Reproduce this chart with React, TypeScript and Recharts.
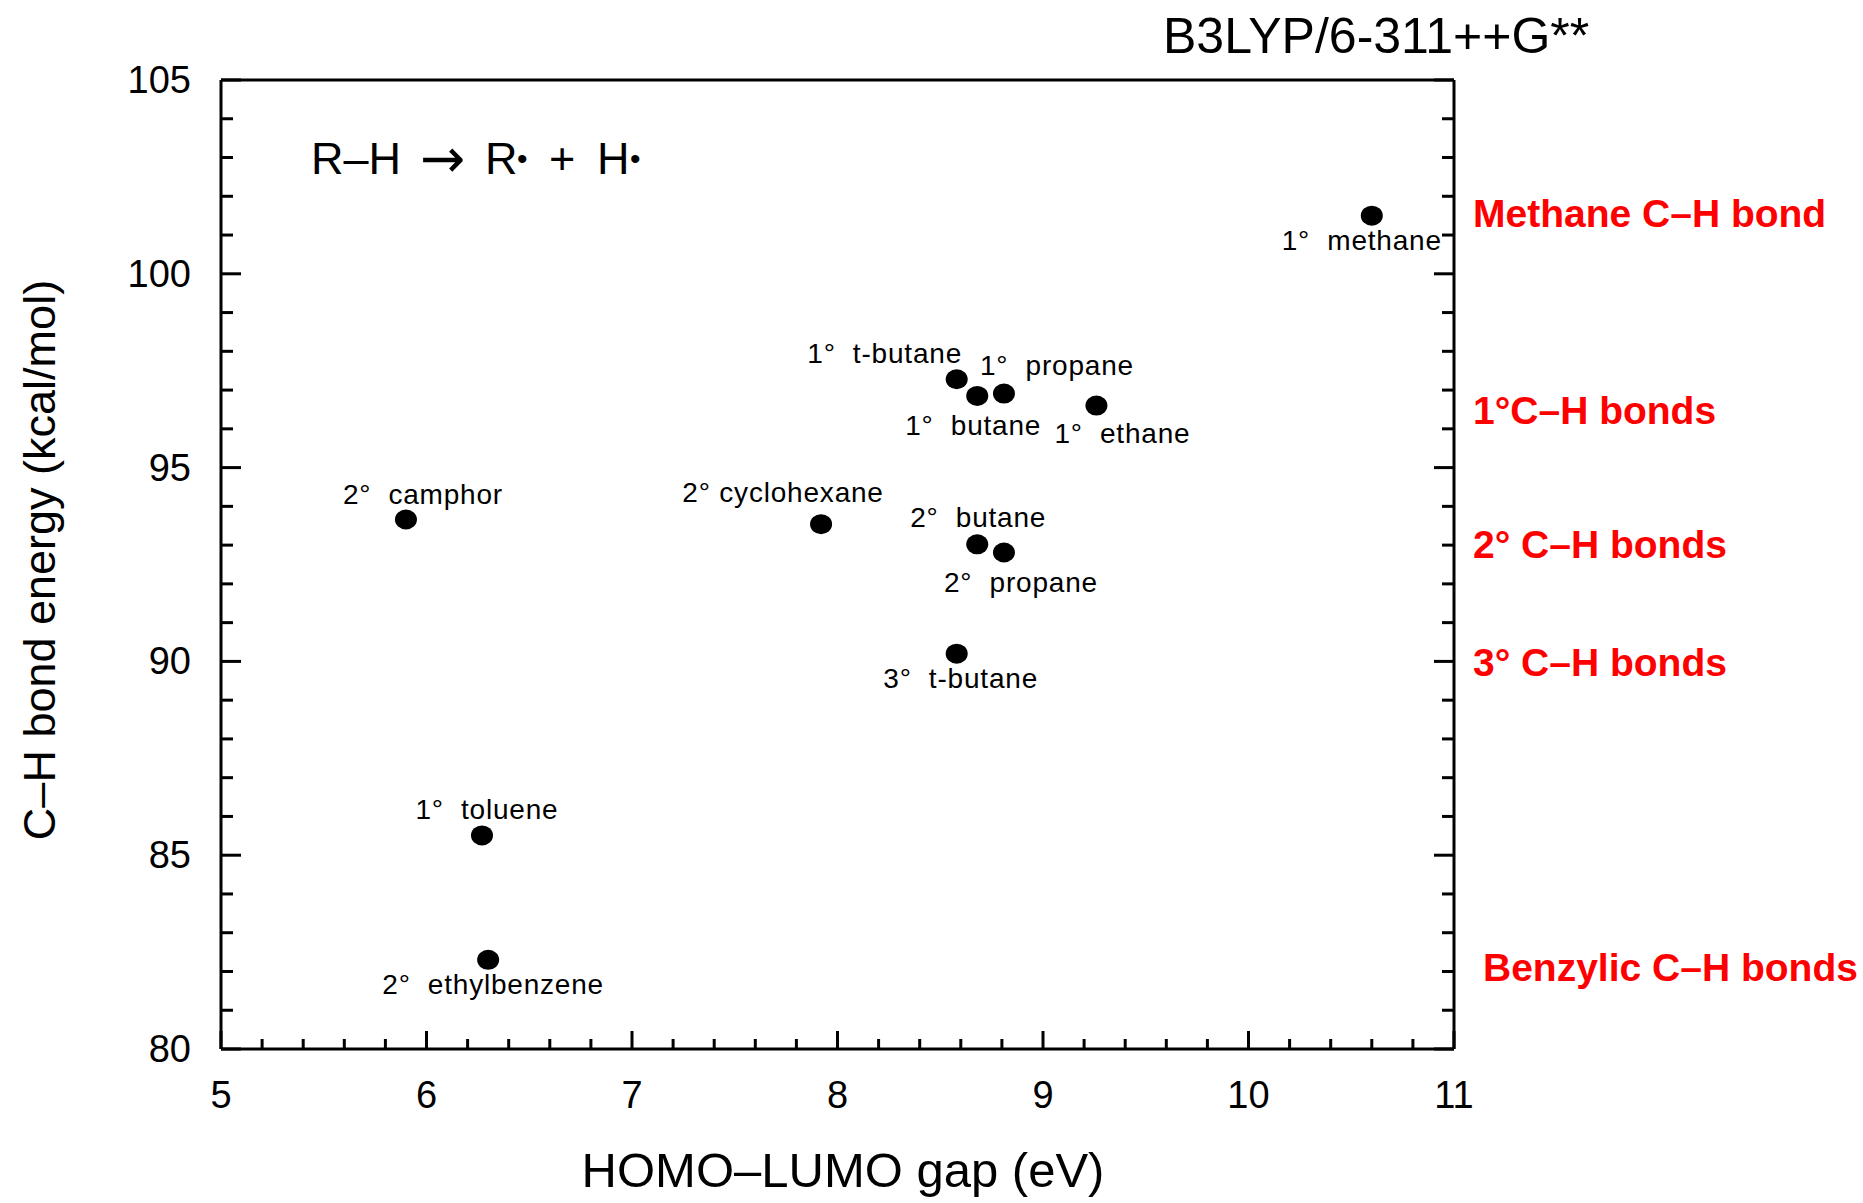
import React from 'react';
import { ScatterChart, Scatter, XAxis, YAxis } from 'recharts';

// HOMO-LUMO gap (eV) vs C-H bond energy (kcal/mol)
const names = [
  '1°  methane',
  '1°  t-butane',
  '1°  butane',
  '1°  propane',
  '1°  ethane',
  '2°  camphor',
  '2° cyclohexane',
  '2°  butane',
  '2°  propane',
  '3°  t-butane',
  '1°  toluene',
  '2°  ethylbenzene',
];
const gapEV = [10.6, 8.58, 8.68, 8.81, 9.26, 5.9, 7.92, 8.68, 8.81, 8.58, 6.27, 6.3];
const bondEnergy = [101.5, 97.28, 96.85, 96.91, 96.6, 93.66, 93.54, 93.02, 92.81, 90.2, 85.51, 82.3];

const xMajor = [5, 6, 7, 8, 9, 10, 11];
const yMajor = [80, 85, 90, 95, 100, 105];

// label placement relative to each point (px), same order as names
const labelShift = [
  [-10, 25], [-72, -26], [-4, 30], [53, -28], [26, 28], [17, -25],
  [-38, -32], [1, -27], [17, 30], [4, 25], [5, -26], [5, 25],
];

const W = 1863;
const H = 1203;
const FONT = '"Liberation Sans", Arial, sans-serif';

const xTicks: number[] = [];
for (let i = 0; i <= 30; i++) xTicks.push(+(5 + i * 0.2).toFixed(1));
const yTicks: number[] = [];
for (let i = 0; i <= 25; i++) yTicks.push(80 + i);

const data = gapEV.map((x, i) => ({ x, y: bondEnergy[i], name: names[i], i }));

const isMajor = (v: number, list: number[]) => list.some((m) => Math.abs(m - v) < 1e-6);

const BottomTick = (props: any) => {
  const { x, y, payload } = props;
  const major = isMajor(payload.value, xMajor);
  return (
    <g>
      <line x1={x} y1={y} x2={x} y2={y - (major ? 18 : 10)} stroke="#000" strokeWidth={3} />
      {major && (
        <text x={x} y={y + 46} textAnchor="middle" dominantBaseline="central" fontSize={38} fontFamily={FONT} fill="#000">
          {payload.value}
        </text>
      )}
    </g>
  );
};

const TopTick = (props: any) => {
  const { x, y, payload } = props;
  const major = isMajor(payload.value, xMajor);
  return <line x1={x} y1={y} x2={x} y2={y + (major ? 18 : 10)} stroke="#000" strokeWidth={3} />;
};

const LeftTick = (props: any) => {
  const { x, y, payload } = props;
  const major = isMajor(payload.value, yMajor);
  return (
    <g>
      <line x1={x} y1={y} x2={x + (major ? 20 : 12)} y2={y} stroke="#000" strokeWidth={3} />
      {major && (
        <text x={x - 30} y={y} textAnchor="end" dominantBaseline="central" fontSize={38} fontFamily={FONT} fill="#000">
          {payload.value}
        </text>
      )}
    </g>
  );
};

const RightTick = (props: any) => {
  const { x, y, payload } = props;
  const major = isMajor(payload.value, yMajor);
  return <line x1={x} y1={y} x2={x - (major ? 20 : 12)} y2={y} stroke="#000" strokeWidth={3} />;
};

const Dot = (props: any) => {
  const { cx, cy, payload } = props;
  const [dx, dy] = labelShift[payload.i];
  return (
    <g>
      <ellipse cx={cx} cy={cy} rx={11} ry={10} fill="#000" />
      <text
        x={cx + dx}
        y={cy + dy}
        textAnchor="middle"
        dominantBaseline="central"
        fontSize={28}
        letterSpacing={0.8}
        fontFamily={FONT}
        fill="#000"
        style={{ whiteSpace: 'pre' }}
      >
        {payload.name}
      </text>
    </g>
  );
};

const redLabels = [
  { text: 'Methane C–H bond', x: 1473, y: 213 },
  { text: '1°C–H bonds', x: 1473, y: 410 },
  { text: '2° C–H bonds', x: 1473, y: 544 },
  { text: '3° C–H bonds', x: 1473, y: 662 },
  { text: 'Benzylic C–H bonds', x: 1483, y: 967 },
];

export default function App() {
  return (
    <div style={{ position: 'absolute', left: 0, top: 0, width: W, height: H, background: '#fff' }}>
      <ScatterChart width={W} height={H} margin={{ top: 0, right: 0, bottom: 0, left: 0 }}>
        <XAxis
          xAxisId="bottom"
          dataKey="x"
          type="number"
          domain={[5, 11]}
          ticks={xTicks}
          interval={0}
          height={154}
          orientation="bottom"
          tickSize={0}
          tickMargin={0}
          tick={<BottomTick />}
          axisLine={{ stroke: '#000', strokeWidth: 3 }}
          allowDataOverflow
        />
        <XAxis
          xAxisId="top"
          type="number"
          domain={[5, 11]}
          ticks={xTicks}
          interval={0}
          height={80}
          orientation="top"
          tickSize={0}
          tickMargin={0}
          tick={<TopTick />}
          axisLine={{ stroke: '#000', strokeWidth: 3 }}
          allowDataOverflow
        />
        <YAxis
          yAxisId="left"
          dataKey="y"
          type="number"
          domain={[80, 105]}
          ticks={yTicks}
          interval={0}
          width={221}
          orientation="left"
          tickSize={0}
          tickMargin={0}
          tick={<LeftTick />}
          axisLine={{ stroke: '#000', strokeWidth: 3 }}
          allowDataOverflow
        />
        <YAxis
          yAxisId="right"
          type="number"
          domain={[80, 105]}
          ticks={yTicks}
          interval={0}
          width={409}
          orientation="right"
          tickSize={0}
          tickMargin={0}
          tick={<RightTick />}
          axisLine={{ stroke: '#000', strokeWidth: 3 }}
          allowDataOverflow
        />
        <Scatter
          data={data}
          xAxisId="bottom"
          yAxisId="left"
          fill="#000"
          shape={<Dot />}
          isAnimationActive={false}
        />
      </ScatterChart>
      <svg width={W} height={H} style={{ position: 'absolute', left: 0, top: 0, pointerEvents: 'none' }}>
        <text x={1163} y={36} dominantBaseline="central" fontSize={50} fontFamily={FONT} fill="#000">
          B3LYP/6-311++G**
        </text>
        <text y={158} dominantBaseline="central" fontSize={45} fontFamily={FONT} fill="#000">
          <tspan x={311}>R–H</tspan>
          <tspan x={420} fontFamily='"DejaVu Sans", sans-serif' fontSize={54}>→</tspan>
          <tspan x={485}>R</tspan>
          <tspan x={517} fontSize={30}>•</tspan>
          <tspan x={549}>+</tspan>
          <tspan x={597}>H</tspan>
          <tspan x={630} fontSize={30}>•</tspan>
        </text>
        <text x={843} y={1170} textAnchor="middle" dominantBaseline="central" fontSize={49} fontFamily={FONT} fill="#000">
          HOMO–LUMO gap (eV)
        </text>
        <text
          x={39}
          y={560}
          textAnchor="middle"
          dominantBaseline="central"
          fontSize={45}
          fontFamily={FONT}
          fill="#000"
          transform="rotate(-90 39 560)"
        >
          C–H bond energy (kcal/mol)
        </text>
        {redLabels.map((l) => (
          <text key={l.text} x={l.x} y={l.y} dominantBaseline="central" fontSize={39} fontWeight="bold" fontFamily={FONT} fill="#ff0000">
            {l.text}
          </text>
        ))}
      </svg>
    </div>
  );
}
